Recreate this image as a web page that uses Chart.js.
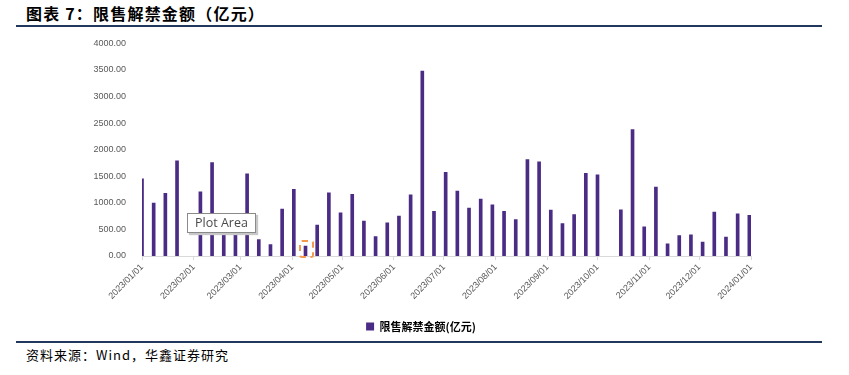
<!DOCTYPE html>
<html>
<head>
<meta charset="utf-8">
<script src="https://cdn.jsdelivr.net/npm/chart.js@4.4.1/dist/chart.umd.min.js"></script>
<style>
  body { margin: 0; width: 849px; height: 375px; background: #fff; position: relative; overflow: hidden; font-family: "Noto Sans CJK SC", sans-serif; }
  #title { position: absolute; left: 26px; top: 1px; font-size: 16px; font-weight: bold; color: #000; letter-spacing: 1.2px; }
  .rule { position: absolute; left: 16px; width: 806px; height: 2px; background: #22375c; }
  #source { position: absolute; left: 26px; top: 345px; font-size: 13px; color: #000; letter-spacing: 1px; }
  #wrap { position: absolute; left: 0; top: 30px; width: 849px; height: 312px; }
  #tip { position: absolute; left: 187px; top: 213px; width: 67px; height: 18px; background: #fff; border: 1px solid #8a8a8a;
         box-shadow: 2px 2px 1px #c8c8c8; font-family: "Open Sans", sans-serif; font-size: 12.5px; color: #4a4a4a; line-height: 18px; text-align: center; }
  #sel { position: absolute; left: 299px; top: 240px; width: 11px; height: 14px; border: 2px dashed #f59a4c; border-radius: 3px; }
</style>
</head>
<body>
<div id="title">图表 7：限售解禁金额（亿元）</div>
<div class="rule" style="top:25px"></div>
<div id="wrap"><canvas id="chart"></canvas></div>
<div class="rule" style="top:341px"></div>
<div id="source">资料来源：Wind，华鑫证券研究</div>
<div id="tip">Plot Area</div>
<div id="sel"></div>
<script>
// 周度日期（每周日）
const weekDates = [
  '2023/01/01','2023/01/08','2023/01/15','2023/01/22','2023/01/29',
  '2023/02/05','2023/02/12','2023/02/19','2023/02/26',
  '2023/03/05','2023/03/12','2023/03/19','2023/03/26',
  '2023/04/02','2023/04/09','2023/04/16','2023/04/23','2023/04/30',
  '2023/05/07','2023/05/14','2023/05/21','2023/05/28',
  '2023/06/04','2023/06/11','2023/06/18','2023/06/25',
  '2023/07/02','2023/07/09','2023/07/16','2023/07/23','2023/07/30',
  '2023/08/06','2023/08/13','2023/08/20','2023/08/27',
  '2023/09/03','2023/09/10','2023/09/17','2023/09/24',
  '2023/10/01','2023/10/08','2023/10/15','2023/10/22','2023/10/29',
  '2023/11/05','2023/11/12','2023/11/19','2023/11/26',
  '2023/12/03','2023/12/10','2023/12/17','2023/12/24','2023/12/31'
];

// 限售解禁金额（亿元）
const unlockValues = [
  1450, 995, 1180, 1790, null,
  1205, 1760, 650, 600,
  1545, 310, 215, 885,
  1255, 185, 580, 1190, 810,
  1160, 655, 365, 625,
  750, 1150, 3480, 840,
  1575, 1220, 900, 1070, 965,
  840, 685, 1815, 1770,
  865, 610, 780, 1555,
  1525, null, 870, 2380, 550,
  1295, 230, 385, 400,
  260, 825, 355, 795, 765
];

// x轴刻度（月初）
const monthTicks = [
  '2023/01/01','2023/02/01','2023/03/01','2023/04/01','2023/05/01','2023/06/01','2023/07/01',
  '2023/08/01','2023/09/01','2023/10/01','2023/11/01','2023/12/01','2024/01/01'
];

const seriesName = '限售解禁金额(亿元)';

const DAY = 86400000;
const base = Date.UTC(2023, 0, 1);
function dayOf(s) {
  const p = s.split('/').map(Number);
  return (Date.UTC(p[0], p[1] - 1, p[2]) - base) / DAY;
}
const tickDays = monthTicks.map(dayOf);
const points = weekDates.map((d, i) => ({ x: dayOf(d), y: unlockValues[i] }));

const tickFont = { family: 'Liberation Sans, Arial, sans-serif', size: 9 };

new Chart(document.getElementById('chart'), {
  type: 'bar',
  data: {
    datasets: [{
      label: seriesName,
      data: points,
      backgroundColor: '#4b2c85',
      barThickness: 3,
      yAxisID: 'y'
    }]
  },
  options: {
    responsive: true,
    maintainAspectRatio: false,
    animation: false,
    layout: { padding: { left: 0, right: 7, top: 10, bottom: 0 } },
    plugins: {
      tooltip: { enabled: false },
      legend: {
        position: 'bottom',
        labels: {
          boxWidth: 8, boxHeight: 8, padding: 10, color: '#000',
          font: { family: 'Noto Sans CJK SC', size: 11, weight: 'bold' }
        }
      }
    },
    scales: {
      x: {
        type: 'linear',
        min: 0, max: 365,
        offset: false,
        afterBuildTicks: s => { s.ticks = tickDays.map(v => ({ value: v })); },
        afterFit: s => { s.height = 55; },
        ticks: {
          autoSkip: false, minRotation: 45, maxRotation: 45,
          color: '#595959', font: tickFont, padding: 2,
          callback: (v) => monthTicks[tickDays.indexOf(v)]
        },
        grid: { drawOnChartArea: false, color: '#d9d9d9', tickLength: 4, offset: false },
        border: { color: '#d9d9d9' }
      },
      y: {
        min: 0, max: 4000,
        afterFit: s => { s.width = 142; },
        ticks: { stepSize: 500, color: '#595959', font: tickFont, padding: 8,
                 callback: v => v.toFixed(2) },
        grid: { display: false },
        border: { display: false }
      },
      y2: {
        position: 'right',
        afterFit: s => { s.width = 91; },
        ticks: { display: false },
        grid: { display: false },
        border: { display: false }
      }
    }
  }
});
</script>
</body>
</html>
